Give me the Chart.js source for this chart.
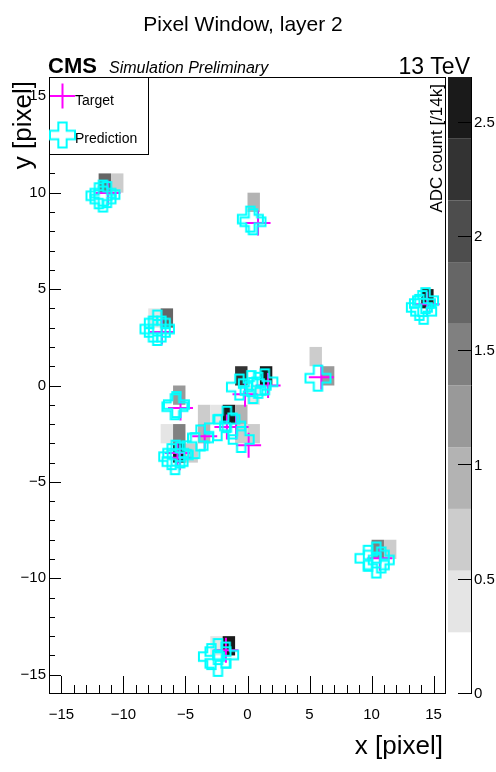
<!DOCTYPE html>
<html><head><meta charset="utf-8">
<script src="https://cdn.jsdelivr.net/npm/chart.js@4.4.1/dist/chart.umd.min.js"></script>
<style>html,body{margin:0;padding:0;background:#fff;}canvas{display:block;}</style>
</head><body>
<canvas id="c" width="496" height="772"></canvas>
<script>
// ---------------- data ----------------
const chartTitle = 'Pixel Window, layer 2';
const xTitle = 'x [pixel]';
const yTitle = 'y [pixel]';
const zTitle = 'ADC count [/14k]';
const xTicks = [-15, -10, -5, 0, 5, 10, 15];
const yTicks = [-15, -10, -5, 0, 5, 10, 15];
const zTicks = [0, 0.5, 1, 1.5, 2, 2.5];
const zMax = 2.7;
const nLevels = 10;

// pixel cells (lower-left bin edge) and ADC count [/14k]
const cellX   = [-12, -11, 0, -8, -7, 14, 5, 6, -1, 1, 0, -6, -4, -3, -2, -1, -7, -6, -4, -1, 0, -6, -5, 10, 11, -3, -2];
const cellY   = [10, 10, 9, 3, 3, 4, 1, 0, 0, 0, -1, -1, -2, -2, -2, -2, -3, -3, -3, -3, -3, -4, -4, -9, -9, -14, -14];
const cellADC = [1.75, 0.65, 0.95, 0.4, 1.75, 2.6, 0.65, 1.2, 2.3, 2.6, 0.4, 1.2, 0.65, 0.4, 2.6, 0.95, 0.4, 1.5, 0.95, 0.65, 0.65, 2.6, 0.65, 1.5, 0.65, 0.4, 2.6];

// target hit positions
const targetX = [-11.25, 0.85, -6.9, 14.48, 5.95, 1.66, -0.2, -5.4, -1.66, -0.92, -3.45, 0.09, -5.65, -5.45, 10.67, -1.74];
const targetY = [9.98, 8.43, 2.77, 4.22, 0.43, 0.0, -0.45, -1.17, -2.15, -2.15, -2.63, -3.1, -3.5, -3.75, -8.96, -13.73];

// predicted hit positions
const predX = [-11.65, -11.97, -11.33, -11.65, 0.23, 0.44, -7.27, -7.62, -6.94, -7.27, 14.1, 14.35, 13.85, 14.2, 5.68,
               -0.65, 0.31, 0.86, 1.4, 0.45, -5.73, -5.85, -1.66, -1.2, -2.42, -3.79, -0.51, -4.23,
               -5.78, -6.11, -5.43, -5.84, 10.38, 9.71, 10.78, 10.38, -2.38, -2.91, -1.76, -2.38];
const predY = [9.98, 9.84, 9.9, 9.67, 8.63, 8.49, 3.24, 2.93, 2.93, 2.75, 4.25, 4.4, 4.05, 3.85, 0.38,
               -0.08, 0.1, 0.01, 0.19, -0.26, -0.99, -1.1, -1.75, -2.1, -2.19, -2.72, -2.8, -3.12,
               -3.51, -3.69, -3.6, -3.95, -8.79, -8.96, -9.05, -9.31, -13.8, -14.06, -13.98, -14.41];

// ---------------- style ----------------
const FONT = "'Liberation Sans', Arial, Helvetica, sans-serif";
const greys = ['#ffffff', '#e5e5e5', '#cccccc', '#b3b3b3', '#999999', '#808080', '#666666', '#4d4d4d', '#333333', '#1a1a1a'];
const MAGENTA = '#ff00ff', CYAN = '#00ffff';
const fmt = v => (v < 0 ? '\u2212' + Math.abs(v) : String(v));

function levelColor(v) {
  let k = Math.floor(v / (zMax / nLevels));
  k = Math.max(0, Math.min(nLevels - 1, k));
  return greys[k];
}

function makeOpenCross(size, lw, color) {
  const S = Math.ceil(size + lw + 2);
  const c = document.createElement('canvas');
  c.width = S; c.height = S;
  const g = c.getContext('2d');
  const h = size / 2, a = size / 6, m = S / 2;
  g.beginPath();
  g.moveTo(m - a, m - h); g.lineTo(m + a, m - h); g.lineTo(m + a, m - a); g.lineTo(m + h, m - a);
  g.lineTo(m + h, m + a); g.lineTo(m + a, m + a); g.lineTo(m + a, m + h); g.lineTo(m - a, m + h);
  g.lineTo(m - a, m + a); g.lineTo(m - h, m + a); g.lineTo(m - h, m - a); g.lineTo(m - a, m - a);
  g.closePath();
  g.lineWidth = lw; g.strokeStyle = color; g.lineJoin = 'miter';
  g.stroke();
  return c;
}
const openCross = makeOpenCross(25, 2, CYAN);

const rootPlugin = {
  id: 'rootStyle',
  beforeDraw(chart) {
    const ctx = chart.ctx;
    ctx.save(); ctx.fillStyle = '#fff'; ctx.fillRect(0, 0, chart.width, chart.height); ctx.restore();
  },
  beforeDatasetsDraw(chart) {
    const ctx = chart.ctx, xs = chart.scales.x, ys = chart.scales.y;
    ctx.save();
    for (let i = 0; i < cellX.length; i++) {
      const x0 = xs.getPixelForValue(cellX[i]), x1 = xs.getPixelForValue(cellX[i] + 1);
      const y0 = ys.getPixelForValue(cellY[i] + 1), y1 = ys.getPixelForValue(cellY[i]);
      ctx.fillStyle = levelColor(cellADC[i]);
      ctx.fillRect(x0, y0, x1 - x0, y1 - y0);
    }
    ctx.restore();
  },
  afterDatasetsDraw(chart) {
    const ctx = chart.ctx, a = chart.chartArea;
    const xs = chart.scales.x, ys = chart.scales.y, zs = chart.scales.z;
    ctx.save();
    ctx.strokeStyle = '#000'; ctx.lineWidth = 1;
    // frame
    ctx.strokeRect(a.left + 0.5, a.top + 0.5, a.right - a.left - 1, a.bottom - a.top - 1);
    // inward ticks
    ctx.beginPath();
    for (let v = -15; v <= 15; v++) {
      const px = Math.round(xs.getPixelForValue(v)) + 0.5;
      const len = (v % 5 === 0) ? 18 : 9;
      ctx.moveTo(px, a.bottom); ctx.lineTo(px, a.bottom - len);
      const py = Math.round(ys.getPixelForValue(v)) + 0.5;
      const ly = (v % 5 === 0) ? 12 : 6;
      ctx.moveTo(a.left, py); ctx.lineTo(a.left + ly, py);
    }
    ctx.stroke();
    // palette
    const bl = 448, br = 472;
    for (let k = 0; k < nLevels; k++) {
      const yb = zs.getPixelForValue(k * zMax / nLevels), yt = zs.getPixelForValue((k + 1) * zMax / nLevels);
      ctx.fillStyle = greys[k];
      ctx.fillRect(bl, yt, br - bl, yb - yt);
    }
    ctx.beginPath();
    ctx.moveTo(br - 0.5, zs.top); ctx.lineTo(br - 0.5, zs.bottom);
    zTicks.forEach(v => {
      const py = Math.round(zs.getPixelForValue(v)) - 0.5;
      ctx.moveTo(br - 14, py); ctx.lineTo(br, py);
    });
    ctx.stroke();
    // z title
    ctx.fillStyle = '#000';
    ctx.font = '17px ' + FONT;
    ctx.save();
    ctx.translate(441.5, a.top + 7);
    ctx.rotate(-Math.PI / 2);
    ctx.textAlign = 'right'; ctx.textBaseline = 'alphabetic';
    ctx.fillText(zTitle, 0, 0);
    ctx.restore();
    // axis titles (ROOT style: aligned to the axis end)
    ctx.font = '26px ' + FONT;
    ctx.textAlign = 'right'; ctx.textBaseline = 'alphabetic';
    ctx.fillText(xTitle, a.right - 3, 754);
    ctx.save();
    ctx.translate(31, a.top + 4);
    ctx.rotate(-Math.PI / 2);
    ctx.fillText(yTitle, 0, 0);
    ctx.restore();
    ctx.restore();
  },
  afterDraw(chart) {
    const ctx = chart.ctx, a = chart.chartArea;
    ctx.save();
    ctx.fillStyle = '#000';
    ctx.textBaseline = 'alphabetic';
    ctx.textAlign = 'center';
    ctx.font = '21px ' + FONT;
    ctx.fillText(chartTitle, 243, 31);
    ctx.textAlign = 'left';
    ctx.font = 'bold 22px ' + FONT;
    ctx.fillText('CMS', 48, 73);
    ctx.font = 'italic 16px ' + FONT;
    ctx.fillText('Simulation Preliminary', 109, 73);
    ctx.textAlign = 'right';
    ctx.font = '23px ' + FONT;
    ctx.fillText('13 TeV', 470, 74);
    // legend
    const lx = a.left, ly = a.top, lw = 99, lh = 77;
    ctx.fillStyle = '#fff';
    ctx.fillRect(lx, ly, lw, lh);
    ctx.strokeStyle = '#000'; ctx.lineWidth = 1;
    ctx.strokeRect(lx + 0.5, ly + 0.5, lw, lh);
    ctx.strokeStyle = MAGENTA; ctx.lineWidth = 2;
    ctx.beginPath();
    ctx.moveTo(62.5, 96 - 12.5); ctx.lineTo(62.5, 96 + 12.5);
    ctx.moveTo(50, 96); ctx.lineTo(75, 96);
    ctx.stroke();
    ctx.drawImage(openCross, 62.5 - openCross.width / 2, 135 - openCross.height / 2);
    ctx.fillStyle = '#000';
    ctx.textAlign = 'left';
    ctx.font = '14px ' + FONT;
    ctx.fillText('Target', 75, 105);
    ctx.fillText('Prediction', 75, 143);
    ctx.restore();
  }
};

const targetData = targetX.map((x, i) => ({x, y: targetY[i]}));
const predData = predX.map((x, i) => ({x, y: predY[i]}));

new Chart(document.getElementById('c'), {
  type: 'scatter',
  data: {
    datasets: [
      {label: 'Target', data: targetData, pointStyle: 'cross', pointRadius: 12.5, borderColor: MAGENTA, backgroundColor: MAGENTA, pointBorderWidth: 2, order: 2},
      {label: 'Prediction', data: predData, pointStyle: openCross, pointRadius: 12.5, borderColor: CYAN, backgroundColor: CYAN, order: 1}
    ]
  },
  options: {
    responsive: false,
    animation: false,
    devicePixelRatio: 1,
    layout: {padding: {top: 77, left: 0, right: 0, bottom: 0}},
    plugins: {legend: {display: false}, tooltip: {enabled: false}, title: {display: false}},
    scales: {
      x: {
        type: 'linear', position: 'bottom', min: -16, max: 16,
        afterBuildTicks: s => { s.ticks = xTicks.map(v => ({value: v})); },
        afterFit: s => { s.height = 78; },
        grid: {display: false, drawTicks: false}, border: {display: false},
        ticks: {font: {family: FONT, size: 15}, color: '#000', padding: 12, maxRotation: 0, autoSkip: false, callback: v => fmt(v)},
        title: {display: false}
      },
      y: {
        type: 'linear', position: 'left', min: -16, max: 16,
        afterBuildTicks: s => { s.ticks = yTicks.map(v => ({value: v})); },
        afterFit: s => { s.width = 49; },
        grid: {display: false, drawTicks: false}, border: {display: false},
        ticks: {font: {family: FONT, size: 15}, color: '#000', padding: 3, autoSkip: false, callback: v => fmt(v)},
        title: {display: false}
      },
      z: {
        type: 'linear', position: 'right', min: 0, max: zMax,
        afterBuildTicks: s => { s.ticks = zTicks.map(v => ({value: v})); },
        afterFit: s => { s.width = 50; },
        grid: {display: false, drawTicks: false}, border: {display: false},
        ticks: {font: {family: FONT, size: 15}, color: '#000', padding: 28, autoSkip: false, callback: v => String(v)}
      }
    }
  },
  plugins: [rootPlugin]
});
</script>
</body></html>
